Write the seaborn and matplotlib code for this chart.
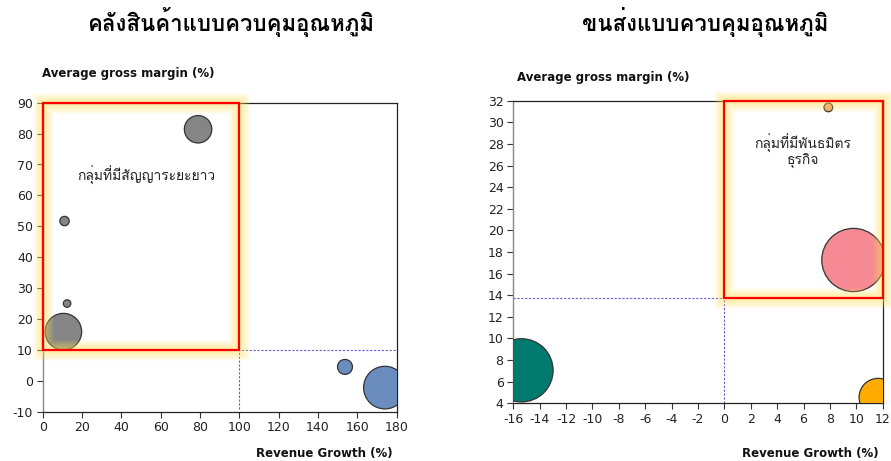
import matplotlib
matplotlib.use("Agg")
import matplotlib.pyplot as plt
from matplotlib import font_manager
from matplotlib.ft2font import FT2Font
from matplotlib.patches import Rectangle
import seaborn as sns
import pandas as pd

# ---------------- data ----------------
wh_title = "คลังสินค้าแบบควบคุมอุณหภูมิ"
wh_x = [10.5, 79.0, 11.1, 12.4, 153.7, 174.0]
wh_y = [15.9, 81.4, 51.7, 25.0, 4.5, -2.2]
wh_size = [335, 188, 22, 14, 56, 454]
wh_group = ["long", "long", "long", "long", "other", "other"]
wh_colors = {"long": "#858585", "other": "#6B8CBF"}
wh_note = "กลุ่มที่มีสัญญาระยะยาว"
wh_xticks = [0, 20, 40, 60, 80, 100, 120, 140, 160, 180]
wh_yticks = [-10, 0, 10, 20, 30, 40, 50, 60, 70, 80, 90]
wh_xdiv, wh_ydiv = 100, 10

tr_title = "ขนส่งแบบควบคุมอุณหภูมิ"
tr_x = [7.88, 9.78, -15.38, 11.65]
tr_y = [31.38, 17.26, 7.05, 4.55]
tr_size = [19, 1369, 1190, 361]
tr_group = ["a", "b", "c", "d"]
tr_colors = {"a": "#F4A07A", "b": "#F58A94", "c": "#007A6E", "d": "#FFAB00"}
tr_note = "กลุ่มที่มีพันธมิตร\nธุรกิจ"
tr_xticks = list(range(-16, 13, 2))
tr_yticks = list(range(4, 33, 2))
tr_xdiv, tr_ydiv = 0, 13.7

ylabel = "Average gross margin (%)"
xlabel = "Revenue Growth (%)"

# ---------------- fonts ----------------
sns.set_theme(style="white")

def find_thai():
    seen = []
    for f in font_manager.fontManager.ttflist:
        try:
            cm = FT2Font(f.fname).get_charmap()
        except Exception:
            continue
        if 0x0E01 in cm and 0x0E38 in cm:
            seen.append(f.name)
    return seen

thai = find_thai()
thai_family = (thai[:1] if thai else []) + ["DejaVu Sans"]
plt.rcParams["font.family"] = ["DejaVu Sans"] + (thai[:1] if thai else [])
plt.rcParams["axes.unicode_minus"] = False

W, H = 891, 461
fig = plt.figure(figsize=(W / 100, H / 100), dpi=100)

def px_axes(l, t, r, b):
    return fig.add_axes([l / W, 1 - b / H, (r - l) / W, (b - t) / H])

ax1 = px_axes(42.7, 102.7, 396.7, 411.7)
ax2 = px_axes(513.3, 100.7, 882.7, 403.3)

def style(ax, xt, yt):
    ax.set_xlim(xt[0], xt[-1])
    ax.set_ylim(yt[0], yt[-1])
    ax.set_xticks(xt)
    ax.set_yticks(yt)
    ax.tick_params(axis="both", direction="out", length=4, width=0.8,
                   color="#333333", labelsize=9, labelcolor="#222222",
                   bottom=True, left=True, pad=3)
    for s in ["top", "right", "bottom"]:
        ax.spines[s].set_color("#222222")
        ax.spines[s].set_linewidth(0.9)
    ax.spines["left"].set_color("#888888")
    ax.spines["left"].set_linewidth(1.0)
    ax.set_xlabel("")
    ax.set_ylabel("")
    ax.grid(False)

def bubbles(ax, x, y, size, group, pal):
    df = pd.DataFrame({"x": x, "y": y, "size": size, "group": group})
    sns.scatterplot(data=df, x="x", y="y", size="size", hue="group",
                    palette=pal, sizes=(0, 2073.6), size_norm=(0, 1000),
                    edgecolor="#333333", linewidth=0.9, alpha=1.0,
                    legend=False, ax=ax, zorder=3)

def glow_box(ax, x0, y0, x1, y1):
    for i in range(10):
        lw = 15 - i * 1.5
        ax.add_patch(Rectangle((x0, y0), x1 - x0, y1 - y0, fill=False,
                               edgecolor="#FFE25A", linewidth=lw, alpha=0.07,
                               zorder=4, clip_on=False, joinstyle="miter"))
    ax.add_patch(Rectangle((x0, y0), x1 - x0, y1 - y0, fill=False,
                           edgecolor="#FF0000", linewidth=1.6, zorder=5,
                           clip_on=False, joinstyle="miter"))

div_kw = dict(color="#6A5ACD", linestyle=(0, (2, 1.5)), linewidth=0.8, zorder=2)

# ---- left chart ----
bubbles(ax1, wh_x, wh_y, wh_size, wh_group, wh_colors)
style(ax1, wh_xticks, wh_yticks)
ax1.axhline(wh_ydiv, xmin=0, xmax=1, **div_kw)
ax1.plot([wh_xdiv, wh_xdiv], [wh_yticks[0] + 1, wh_ydiv], **div_kw)
glow_box(ax1, 0, wh_ydiv, wh_xdiv, wh_yticks[-1])
ax1.text(52.5, 66.3, wh_note, ha="center", va="center", fontsize=10,
         family=thai_family, color="#222222", zorder=6)

# ---- right chart ----
bubbles(ax2, tr_x, tr_y, tr_size, tr_group, tr_colors)
style(ax2, tr_xticks, tr_yticks)
ax2.plot([tr_xticks[0], tr_xdiv], [tr_ydiv, tr_ydiv], **div_kw)
ax2.plot([tr_xdiv, tr_xdiv], [tr_yticks[0], tr_ydiv], **div_kw)
glow_box(ax2, tr_xdiv, tr_ydiv, tr_xticks[-1], tr_yticks[-1])
ax2.text(5.96, 27.3, tr_note, ha="center", va="center", fontsize=10,
         family=thai_family, color="#222222", linespacing=1.1, zorder=6)

# ---- labels ----
def ftext(x, y, s, **kw):
    fig.text(x / W, 1 - y / H, s, **kw)

ftext(42, 73, ylabel, ha="left", va="center", fontsize=8.5, weight="bold", color="#111111")
ftext(517, 78, ylabel, ha="left", va="center", fontsize=8.5, weight="bold", color="#111111")
ftext(393, 453, xlabel, ha="right", va="center", fontsize=8.5, weight="bold", color="#111111")
ftext(879, 453, xlabel, ha="right", va="center", fontsize=8.5, weight="bold", color="#111111")
ftext(231, 22, wh_title, ha="center", va="center", fontsize=16, weight="bold",
      family=thai_family, color="#000000")
ftext(705, 22, tr_title, ha="center", va="center", fontsize=16, weight="bold",
      family=thai_family, color="#000000")

fig.savefig("out.png", dpi=100, facecolor="white")
